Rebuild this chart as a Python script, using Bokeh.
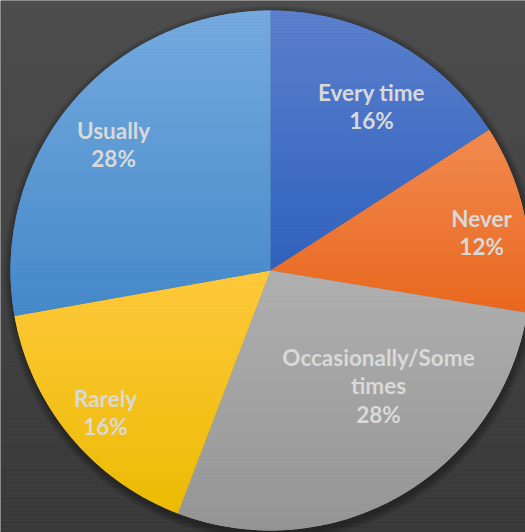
import math
import numpy as np
from bokeh.plotting import figure
from bokeh.models import Range1d, ColumnDataSource
from bokeh.core.properties import value
from bokeh.embed import file_html
from bokeh.resources import INLINE

# ---------------- data ----------------
categories = ["Every time", "Never", "Occasionally/Some times", "Rarely", "Usually"]
label_lines = [["Every time"], ["Never"], ["Occasionally/Some", "times"], ["Rarely"], ["Usually"]]
percent = [15.9, 11.7, 28.2, 16.4, 27.8]   # share of responses (%)

# ---------------- styles ----------------
top_colors = ["#5c81cd", "#f28c52", "#b1b1b1", "#ffc93e", "#77abdf"]
bottom_colors = ["#2e60bc", "#e8661b", "#939393", "#ebba00", "#4287c8"]
label_radius = [0.741, 0.825, 0.607, 0.837, 0.774]
label_angle_shift = [-3.0, -1.5, 13.3, 1.1, 1.2]
bg_top, bg_bottom = "#4d4d4d", "#383838"
text_color = "#d9d9d9"

W, H = 525, 532
cx, cy, R = 270, H - 270, 260


def hex2rgb(h):
    h = h.lstrip("#")
    return np.array([int(h[i:i + 2], 16) for i in (0, 2, 4)], dtype=float)


def mix(c1, c2, t):
    a, b = hex2rgb(c1), hex2rgb(c2)
    c = a * (1 - t) + b * t
    return "#%02x%02x%02x" % tuple(int(round(v)) for v in c)


def clip_half(pts, keep, inter):
    out = []
    n = len(pts)
    for i in range(n):
        cur, prev = pts[i], pts[i - 1]
        if keep(cur):
            if not keep(prev):
                out.append(inter(prev, cur))
            out.append(cur)
        elif keep(prev):
            out.append(inter(prev, cur))
    return out


def clip_band(pts, ya, yb):
    def inter_y(y0):
        def f(p, q):
            t = (y0 - p[1]) / (q[1] - p[1])
            return (p[0] + t * (q[0] - p[0]), y0)
        return f
    pts = clip_half(pts, lambda p: p[1] >= ya, inter_y(ya))
    if not pts:
        return pts
    pts = clip_half(pts, lambda p: p[1] <= yb, inter_y(yb))
    return pts


p = figure(width=W, height=H, output_backend="svg", toolbar_location=None,
           x_range=Range1d(0, W), y_range=Range1d(0, H),
           min_border=0, outline_line_color=None,
           background_fill_color=bg_top, border_fill_color=bg_top)
p.axis.visible = False
p.grid.visible = False

# background gradient
bl, br, bb, bt, bc = [], [], [], [], []
for y in range(0, H, 4):
    t = 1 - (y + 2) / H
    bl.append(0); br.append(W); bb.append(y); bt.append(y + 4)
    bc.append(mix(bg_top, bg_bottom, t))
p.quad(left=bl, right=br, bottom=bb, top=bt, fill_color=bc, line_color=None)

# soft shadow
for k in range(8, 0, -1):
    p.circle(x=[cx + 1], y=[cy - 3], radius=R + k, fill_color="black",
             fill_alpha=0.045, line_color=None)

# wedges
cum = np.concatenate([[0], np.cumsum(percent)])
total = cum[-1]
start = 90 - cum[:-1] / total * 360
end = 90 - cum[1:] / total * 360
mid_colors = [mix(a, b, 0.5) for a, b in zip(top_colors, bottom_colors)]
src = ColumnDataSource(dict(start=start, end=end, color=mid_colors, cat=categories))
p.wedge(x=cx, y=cy, radius=R, start_angle="start", end_angle="end",
        start_angle_units="deg", end_angle_units="deg", direction="clock",
        fill_color="color", line_color=None, source=src)

# per-slice vertical gradient overlay
gx, gy, gc = [], [], []
for i in range(len(percent)):
    angs = np.radians(np.linspace(start[i], end[i], max(int(abs(start[i] - end[i])) * 2, 4)))
    poly = [(cx, cy)] + [(cx + R * math.cos(a), cy + R * math.sin(a)) for a in angs]
    ys = [q[1] for q in poly]
    ytop, ybot = min(max(ys), H), max(min(ys), 0)
    y = math.floor(ybot)
    while y < ytop:
        band = clip_band(poly, y, y + 3)
        if len(band) >= 3:
            t = (max(ys) - (y + 1.5)) / (max(ys) - min(ys))
            t = min(max(t, 0), 1)
            gx.append([q[0] for q in band]); gy.append([q[1] for q in band])
            gc.append(mix(top_colors[i], bottom_colors[i], t))
        y += 3
p.patches(xs=gx, ys=gy, fill_color=gc, line_color=None)

# labels
tx, ty, tt = [], [], []
for i in range(len(percent)):
    a = math.radians((start[i] + end[i]) / 2 + label_angle_shift[i])
    r = label_radius[i] * R
    lx, ly = cx + r * math.cos(a), cy + r * math.sin(a)
    lines = label_lines[i] + ["%d%%" % round(percent[i] / total * 100)]
    n = len(lines)
    for j, s in enumerate(lines):
        tx.append(lx); ty.append(ly + ((n - 1) / 2 - j) * 28.5); tt.append(s)
p.text(x=tx, y=ty, text=tt, text_font=value("Lato"), text_font_style="bold",
       text_font_size="22.5px", text_color=text_color, text_align="center",
       text_baseline="middle")

open("out.html", "w").write(file_html(p, INLINE))
